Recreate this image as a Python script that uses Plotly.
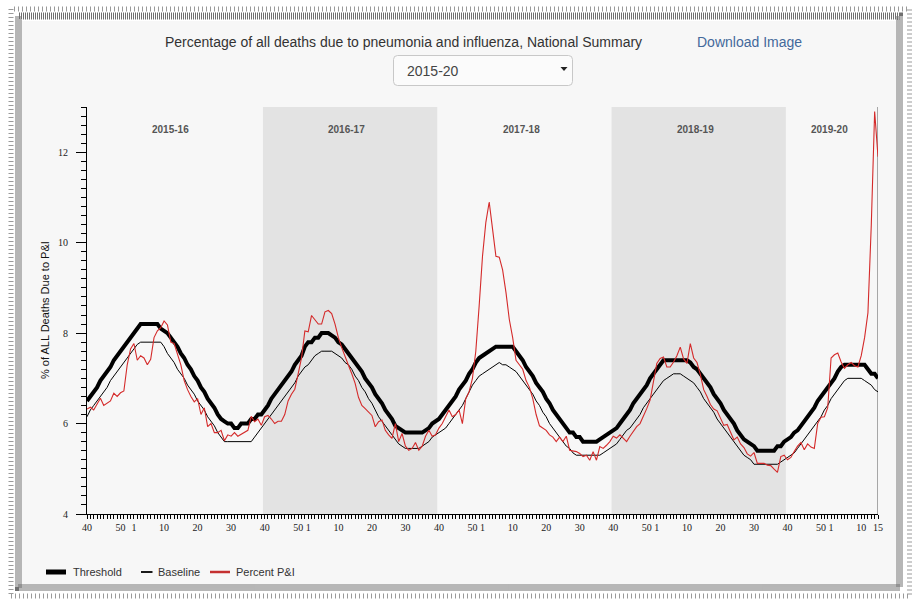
import plotly.graph_objects as go

# ---------------- data ----------------
seasons = ["2015-16", "2016-17", "2017-18", "2018-19", "2019-20"]
first_year_max_week = [53, 52, 52, 52, 52]   # MMWR weeks in the season's first year
last_week_shown = 15                          # last week of the 2019-20 season shown

threshold = [
    6.5, 6.6, 6.7, 6.8, 6.95, 7.05, 7.15, 7.25, 7.4, 7.5, 7.6, 7.7, 7.8, 7.9, 8.0, 8.1,
    8.2, 8.2, 8.2, 8.2, 8.2, 8.2, 8.1, 8.05, 8.0, 7.9, 7.8, 7.7, 7.55, 7.45, 7.3, 7.2,
    7.05, 6.95, 6.8, 6.7, 6.55, 6.45, 6.35, 6.2, 6.1, 6.05, 6.0, 6.0, 5.9, 5.9, 6.0, 6.0,
    6.0, 6.1, 6.1, 6.2, 6.2,
    6.3, 6.4, 6.55, 6.65, 6.75, 6.85, 6.95, 7.05, 7.15, 7.3, 7.4, 7.5, 7.7, 7.8, 7.8, 7.9,
    7.9, 8.0, 8.0, 8.0, 7.95, 7.9, 7.8, 7.75, 7.65, 7.55, 7.45, 7.35, 7.25, 7.15, 7.0, 6.9,
    6.8, 6.65, 6.55, 6.45, 6.3, 6.2, 6.1, 5.95, 5.9, 5.85, 5.8, 5.8, 5.8, 5.8, 5.8, 5.8,
    5.85, 5.9, 6.0, 6.05,
    6.1, 6.2, 6.3, 6.4, 6.5, 6.6, 6.75, 6.85, 6.95, 7.1, 7.2, 7.35, 7.45, 7.5, 7.55, 7.6,
    7.65, 7.7, 7.7, 7.7, 7.7, 7.7, 7.7, 7.6, 7.5, 7.4, 7.25, 7.15, 7.05, 6.9, 6.8, 6.7,
    6.55, 6.45, 6.3, 6.2, 6.1, 6.0, 5.9, 5.8, 5.8, 5.7, 5.7, 5.6, 5.6, 5.6, 5.6, 5.6,
    5.65, 5.7, 5.75, 5.8,
    5.85, 5.9, 6.0, 6.1, 6.2, 6.3, 6.45, 6.55, 6.65, 6.75, 6.85, 7.0, 7.1, 7.2, 7.3, 7.4,
    7.4, 7.4, 7.4, 7.4, 7.4, 7.4, 7.4, 7.35, 7.25, 7.2, 7.1, 7.0, 6.9, 6.8, 6.65, 6.55,
    6.45, 6.3, 6.2, 6.1, 6.0, 5.85, 5.75, 5.65, 5.6, 5.55, 5.5, 5.4, 5.4, 5.4, 5.4, 5.4,
    5.4, 5.5, 5.5, 5.6,
    5.65, 5.7, 5.8, 5.85, 5.95, 6.05, 6.15, 6.25, 6.35, 6.5, 6.6, 6.7, 6.8, 6.9, 7.0, 7.15,
    7.25, 7.3, 7.3, 7.3, 7.3, 7.3, 7.3, 7.3, 7.2, 7.1, 7.1, 7.0,
]

baseline = [
    6.15, 6.3, 6.4, 6.5, 6.6, 6.7, 6.8, 6.95, 7.05, 7.15, 7.25, 7.35, 7.45, 7.55, 7.65, 7.75,
    7.8, 7.8, 7.8, 7.8, 7.8, 7.8, 7.8, 7.7, 7.55, 7.45, 7.35, 7.2, 7.1, 7.0, 6.85, 6.75,
    6.65, 6.5, 6.4, 6.3, 6.15, 6.05, 5.95, 5.8, 5.7, 5.6, 5.6, 5.6, 5.6, 5.6, 5.6, 5.6,
    5.6, 5.6, 5.7, 5.8, 5.9,
    6.0, 6.1, 6.2, 6.3, 6.4, 6.5, 6.6, 6.7, 6.8, 6.9, 7.05, 7.15, 7.25, 7.3, 7.4, 7.5,
    7.55, 7.6, 7.6, 7.6, 7.6, 7.55, 7.5, 7.45, 7.35, 7.3, 7.2, 7.05, 6.95, 6.8, 6.7, 6.55,
    6.45, 6.3, 6.15, 6.05, 5.95, 5.85, 5.75, 5.65, 5.55, 5.5, 5.45, 5.45, 5.45, 5.45, 5.45, 5.5,
    5.55, 5.6, 5.7, 5.75,
    5.8, 5.85, 5.9, 6.0, 6.1, 6.2, 6.3, 6.4, 6.55, 6.7, 6.85, 6.95, 7.05, 7.1, 7.15, 7.2,
    7.25, 7.3, 7.35, 7.3, 7.3, 7.25, 7.2, 7.15, 7.05, 6.95, 6.85, 6.75, 6.65, 6.5, 6.4, 6.25,
    6.15, 6.0, 5.9, 5.8, 5.7, 5.6, 5.5, 5.45, 5.35, 5.3, 5.3, 5.3, 5.3, 5.3, 5.3, 5.3,
    5.3, 5.35, 5.4, 5.45,
    5.5, 5.55, 5.65, 5.75, 5.85, 5.9, 6.0, 6.1, 6.2, 6.35, 6.45, 6.55, 6.65, 6.75, 6.85, 6.95,
    7.0, 7.05, 7.1, 7.1, 7.1, 7.05, 7.0, 6.95, 6.9, 6.8, 6.7, 6.55, 6.45, 6.35, 6.25, 6.1,
    6.0, 5.9, 5.8, 5.7, 5.6, 5.5, 5.4, 5.3, 5.25, 5.2, 5.1, 5.1, 5.1, 5.1, 5.1, 5.1,
    5.1, 5.1, 5.15, 5.2,
    5.25, 5.3, 5.35, 5.45, 5.55, 5.65, 5.75, 5.85, 5.95, 6.05, 6.15, 6.3, 6.4, 6.55, 6.65, 6.75,
    6.85, 6.95, 7.0, 7.0, 7.0, 7.0, 7.0, 6.95, 6.9, 6.85, 6.75, 6.7,
]

percent_pi = [
    6.32, 6.36, 6.3, 6.42, 6.56, 6.4, 6.45, 6.5, 6.67, 6.6, 6.68, 6.72, 7.3, 7.65, 7.77, 7.4,
    7.5, 7.45, 7.3, 7.42, 7.9, 8.05, 8.12, 8.27, 8.18, 7.8, 7.77, 7.55, 7.3, 6.95, 6.75, 6.6,
    6.48, 6.55, 6.2, 6.35, 5.93, 6.0, 5.8, 5.8, 5.85, 5.62, 5.75, 5.72, 5.8, 5.72, 5.77, 5.8,
    5.85, 6.16, 6.04, 6.1, 5.96,
    6.15, 6.18, 6.1, 6.0, 6.05, 6.05, 6.2, 6.5, 6.65, 6.76, 7.1, 7.45, 8.05, 8.03, 8.39, 8.29,
    8.2, 8.2, 8.47, 8.5, 8.43, 8.2, 7.9, 7.68, 7.47, 7.29, 7.1, 6.89, 6.58, 6.4, 6.33, 6.25,
    6.18, 5.93, 6.04, 6.08, 5.85, 5.75, 5.67, 6.0, 5.6, 5.78, 5.5, 5.41, 5.45, 5.58, 5.41, 5.5,
    5.72, 5.85, 5.72, 5.75,
    5.9, 6.0, 6.15, 6.3, 6.15, 6.2, 6.3, 6.0, 6.55, 6.7, 7.0, 7.6, 8.6, 9.7, 10.45, 10.9,
    10.3, 9.7, 9.68, 9.4, 8.9, 8.3, 7.9, 7.4, 7.3, 7.2, 6.95, 6.8, 6.55, 6.2, 5.95, 5.9,
    5.85, 5.75, 5.7, 5.6, 5.7, 5.6, 5.72, 5.41, 5.4, 5.38, 5.34, 5.27, 5.3, 5.19, 5.38, 5.19,
    5.49, 5.45, 5.52, 5.6,
    5.72, 5.68, 5.75, 5.68, 5.6, 5.72, 5.82, 5.93, 6.0, 6.15, 6.33, 6.52, 6.96, 7.33, 7.44, 7.47,
    7.25, 7.25, 7.36, 7.5, 7.69, 7.43, 7.33, 7.77, 7.45, 7.35, 7.08, 6.75, 6.6, 6.42, 6.32, 6.28,
    6.12, 5.96, 5.98, 5.82, 5.64, 5.7, 5.55, 5.47, 5.33, 5.28, 5.36, 5.12, 5.12, 5.12, 5.08, 5.07,
    4.99, 4.92, 5.27, 5.3,
    5.2, 5.25, 5.38, 5.5, 5.58, 5.42, 5.55, 5.48, 5.45, 6.0, 6.14, 6.15, 6.35, 7.45, 7.52, 7.56,
    7.36, 7.22, 7.3, 7.35, 7.28, 7.25, 7.5, 7.9, 8.45, 10.4, 12.9, 11.9,
]

series_names = ["Threshold", "Baseline", "Percent P&I"]

# MMWR week numbers along the x axis, season by season
weeks, season_idx = [], []
for i, mw in enumerate(first_year_max_week):
    end = 39 if i < len(seasons) - 1 else last_week_shown
    wk = list(range(40, mw + 1)) + list(range(1, end + 1))
    weeks += wk
    season_idx += [i] * len(wk)
n = min(len(weeks), len(threshold), len(baseline), len(percent_pi))
x = list(range(n))
labelled_weeks = {40, 50, 1, 10, 20, 30}
tickvals = [i for i in x if weeks[i] in labelled_weeks or i == n - 1]
ticktext = [str(weeks[i]) for i in tickvals]

# ---------------- layout helpers ----------------
W, H = 917, 602
L, R, T, B = 87, 39, 107, 88
PW, PH = W - L - R, H - T - B


def px(v):
    return (v - L) / PW


def py(v):
    return (T + PH - v) / PH


SANS = "Liberation Sans, Arial, sans-serif"
SERIF = "Liberation Serif, Times New Roman, serif"

styles = [dict(color="black", width=4), dict(color="black", width=1),
          dict(color="#d42a2a", width=1.1)]
legend_styles = [dict(color="black", width=5), dict(color="black", width=1.8),
                 dict(color="#c43030", width=2.5)]
legend_sample_x = [(46, 66), (141, 152.5), (210, 230)]
legend_text_x = [72, 157, 235]

fig = go.Figure()
for name, ys, st in zip(series_names, [threshold, baseline, percent_pi], styles):
    fig.add_trace(go.Scatter(x=x, y=ys[:n], name=name, mode="lines", line=st,
                             showlegend=False))

shapes = []
# page panel + dotted frame
shapes.append(dict(type="rect", xref="paper", yref="paper", layer="below",
                   x0=px(22), x1=px(896), y0=py(584), y1=py(21),
                   fillcolor="#f7f7f7", line=dict(width=0)))
shapes.append(dict(type="rect", xref="paper", yref="paper", layer="below",
                   x0=px(11), x1=px(909.5), y0=py(596), y1=py(9),
                   line=dict(color="#9a9a9a", width=5, dash="1px,3px")))
shapes.append(dict(type="rect", xref="paper", yref="paper", layer="below",
                   x0=px(18.5), x1=px(899.5), y0=py(587.5), y1=py(16),
                   line=dict(color="#6f6f6f", width=7, dash="1px,1px")))
# alternate season shading
starts = [season_idx.index(i) for i in range(len(seasons))]
ends = [len(season_idx) - 1 - season_idx[::-1].index(i) for i in range(len(seasons))]
for i in range(len(seasons)):
    if i % 2 == 1:
        shapes.append(dict(type="rect", xref="x", yref="paper", layer="below",
                           x0=starts[i] - 0.5, x1=ends[i] + 0.5, y0=0, y1=1,
                           fillcolor="#e3e3e3", line=dict(width=0)))
# current-week marker at right edge
shapes.append(dict(type="line", xref="x", yref="paper", layer="below",
                   x0=x[-1], x1=x[-1], y0=0, y1=1,
                   line=dict(color="#8c8c8c", width=1.5)))
# dropdown box
bx0, bx1, by0, by1, rr = 393.5, 572.5, 55.5, 85.5, 4


def rounded_rect(x0, x1, y0, y1, r):
    return (f"M{px(x0 + r)},{py(y0)} L{px(x1 - r)},{py(y0)} Q{px(x1)},{py(y0)} {px(x1)},{py(y0 + r)} "
            f"L{px(x1)},{py(y1 - r)} Q{px(x1)},{py(y1)} {px(x1 - r)},{py(y1)} "
            f"L{px(x0 + r)},{py(y1)} Q{px(x0)},{py(y1)} {px(x0)},{py(y1 - r)} "
            f"L{px(x0)},{py(y0 + r)} Q{px(x0)},{py(y0)} {px(x0 + r)},{py(y0)} Z")


shapes.append(dict(type="path", xref="paper", yref="paper", layer="above",
                   path=rounded_rect(bx0, bx1, by0, by1, rr),
                   fillcolor="#fbfbfb", line=dict(color="#c8c8c8", width=1)))
shapes.append(dict(type="path", xref="paper", yref="paper", layer="above",
                   path=f"M{px(560.5)},{py(67)} L{px(567.5)},{py(67)} L{px(564)},{py(71)} Z",
                   fillcolor="#222", line=dict(width=0)))
# legend samples
for (sx0, sx1), st in zip(legend_sample_x, legend_styles):
    shapes.append(dict(type="line", xref="paper", yref="paper", layer="above",
                       x0=px(sx0), x1=px(sx1), y0=py(572), y1=py(572), line=st))

annotations = [
    dict(text="Percentage of all deaths due to pneumonia and influenza, National Summary",
         xref="paper", yref="paper", x=px(403.5), y=py(42), xanchor="center", yanchor="middle",
         showarrow=False, font=dict(family=SANS, size=14, color="#333")),
    dict(text="Download Image", xref="paper", yref="paper", x=px(749), y=py(42),
         xanchor="center", yanchor="middle", showarrow=False,
         font=dict(family=SANS, size=14, color="#44699b")),
    dict(text="2015-20", xref="paper", yref="paper", x=px(405), y=py(70.5),
         xanchor="left", yanchor="middle", showarrow=False,
         font=dict(family=SANS, size=14, color="#444")),
    dict(text="% of ALL Deaths Due to P&I", xref="paper", yref="paper", x=px(45), y=py(310),
         xanchor="center", yanchor="middle", textangle=-90, showarrow=False,
         font=dict(family=SANS, size=11, color="#111")),
]
for i, name in enumerate(seasons):
    annotations.append(dict(text=f"<b>{name}</b>", xref="x", yref="paper",
                            x=(starts[i] + min(ends[i], n - 1)) / 2 - 1, y=py(129),
                            xanchor="center", yanchor="middle", showarrow=False,
                            font=dict(family=SANS, size=10, color="#555")))
for name, tx in zip(series_names, legend_text_x):
    annotations.append(dict(text=name, xref="paper", yref="paper", x=px(tx), y=py(572),
                            xanchor="left", yanchor="middle", showarrow=False,
                            xshift=-1, font=dict(family=SANS, size=11, color="#333")))

fig.update_layout(
    width=W, height=H, autosize=False,
    margin=dict(l=L, r=R, t=T, b=B, pad=0),
    paper_bgcolor="white", plot_bgcolor="rgba(0,0,0,0)",
    shapes=shapes, annotations=annotations,
    showlegend=False,
    xaxis=dict(range=[0, x[-1]], tickmode="array", tickvals=tickvals, ticktext=ticktext,
               tickangle=0, ticks="outside", ticklen=4, tickcolor="black", tickwidth=1,
               showline=True, linecolor="black", linewidth=1, showgrid=False, zeroline=False,
               tickfont=dict(family=SERIF, size=10, color="#222"),
               minor=dict(tickmode="linear", tick0=0, dtick=1, ticks="outside", ticklen=4,
                          tickcolor="black", showgrid=False),
               fixedrange=True),
    yaxis=dict(range=[4, 13], tick0=0, dtick=2, ticks="outside", ticklen=10, tickcolor="black",
               showline=True, linecolor="black", linewidth=1, showgrid=False, zeroline=False,
               ticklabelstandoff=6,
               tickfont=dict(family=SERIF, size=10, color="#222"),
               minor=dict(dtick=0.2, ticks="outside", ticklen=5, tickcolor="black", showgrid=False),
               fixedrange=True),
    hovermode=False,
)

fig.write_html("out.html", config={"displayModeBar": False},
               post_script="document.body.style.margin='0px';document.body.style.overflow='hidden';")
